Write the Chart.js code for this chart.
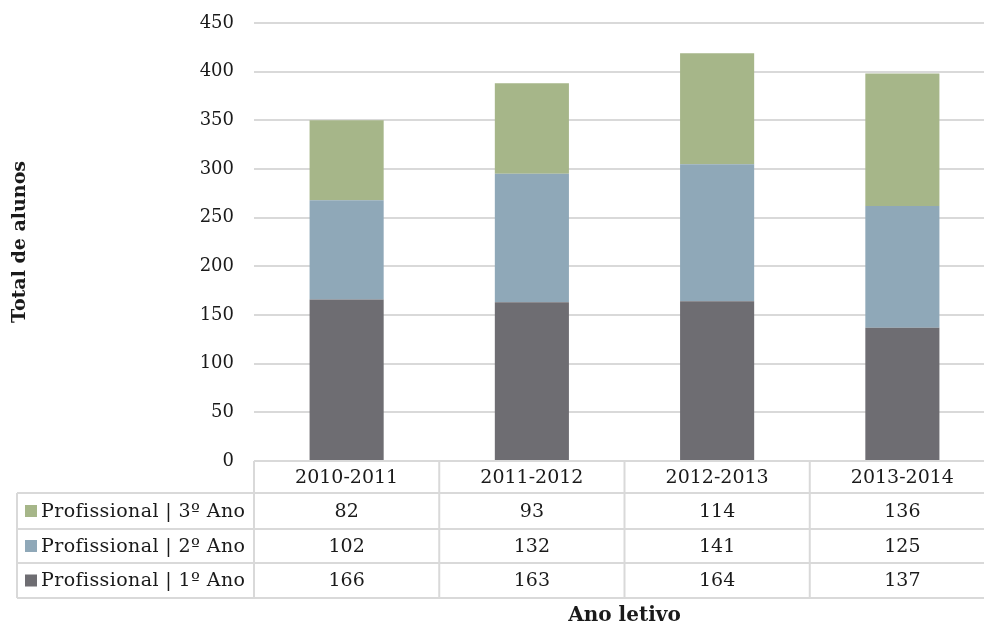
<!DOCTYPE html>
<html>
<head>
<meta charset="utf-8">
<script src="https://cdn.jsdelivr.net/npm/chart.js@4/dist/chart.umd.min.js"></script>
<style>
  html, body { margin: 0; padding: 0; overflow: hidden; background: #fff; }
  canvas { display: block; }
</style>
</head>
<body>
<canvas id="chart" width="996" height="626"></canvas>
<script>
// Data
const anos     = ["2010-2011", "2011-2012", "2012-2013", "2013-2014"];
const ano1     = [166, 163, 164, 137];
const ano2     = [102, 132, 141, 125];
const ano3     = [82, 93, 114, 136];
const nomes    = ["Profissional | 1º Ano", "Profissional | 2º Ano", "Profissional | 3º Ano"];
const cores    = ["#6e6d72", "#8fa8b8", "#a6b689"];

const FONT  = "'DejaVu Serif', serif";
const TEXT  = "#1a1a1a";
const LINES = "#d9d9d9";

// Draws the data table under the plot (acts as the legend too)
const dataTable = {
  id: "dataTable",
  afterDraw(chart) {
    const { ctx, chartArea } = chart;
    const x = chart.scales.x;
    const n = anos.length;
    const colW = (chartArea.right - chartArea.left) / n;
    const tableLeft = 17;
    const top = chartArea.bottom;
    const rows = [top, top + 32, top + 68, top + 102, top + 137];

    ctx.save();
    ctx.strokeStyle = LINES;
    ctx.lineWidth = 2;

    // horizontal lines
    ctx.beginPath();
    ctx.moveTo(chartArea.left, rows[0]);
    ctx.lineTo(chartArea.right, rows[0]);
    for (let r = 1; r < rows.length; r++) {
      ctx.moveTo(tableLeft, rows[r]);
      ctx.lineTo(chartArea.right, rows[r]);
    }
    // vertical lines
    for (let c = 0; c <= n; c++) {
      const cx = chartArea.left + c * colW;
      ctx.moveTo(cx, rows[0]);
      ctx.lineTo(cx, rows[4]);
    }
    ctx.moveTo(tableLeft, rows[1]);
    ctx.lineTo(tableLeft, rows[4]);
    ctx.stroke();

    ctx.font = "19px " + FONT;
    ctx.fillStyle = TEXT;
    ctx.textAlign = "center";
    ctx.textBaseline = "middle";

    // header: categories
    anos.forEach((a, i) => {
      ctx.fillText(a, x.getPixelForValue(i), (rows[0] + rows[1]) / 2 + 1);
    });

    // rows: top row is the last dataset
    const ds = chart.data.datasets;
    for (let r = 0; r < ds.length; r++) {
      const d = ds[ds.length - 1 - r];
      const cy = (rows[r + 1] + rows[r + 2]) / 2 + 1;
      ctx.textAlign = "center";
      ctx.fillStyle = TEXT;
      ctx.letterSpacing = "0px";
      d.data.forEach((v, i) => ctx.fillText(String(v), x.getPixelForValue(i), cy));
      ctx.fillStyle = d.backgroundColor;
      ctx.fillRect(25, cy - 7, 12, 12);
      ctx.fillStyle = TEXT;
      ctx.textAlign = "left";
      ctx.letterSpacing = "0.4px";
      ctx.fillText(d.label, 41, cy);
    }
    ctx.restore();
  }
};

new Chart(document.getElementById("chart"), {
  type: "bar",
  data: {
    labels: anos,
    datasets: [
      { label: nomes[0], data: ano1, backgroundColor: cores[0] },
      { label: nomes[1], data: ano2, backgroundColor: cores[1] },
      { label: nomes[2], data: ano3, backgroundColor: cores[2] }
    ]
  },
  options: {
    responsive: false,
    animation: false,
    devicePixelRatio: 1,
    layout: { padding: { left: 0, right: 1, top: 23, bottom: 0 } },
    datasets: { bar: { barPercentage: 0.4, categoryPercentage: 1.0 } },
    plugins: {
      legend: { display: false },
      tooltip: { enabled: false }
    },
    scales: {
      x: {
        stacked: true,
        grid: { display: false },
        border: { display: false },
        ticks: { display: false },
        title: {
          display: true,
          text: "Ano letivo",
          color: TEXT,
          font: { family: FONT, size: 20, weight: "bold", lineHeight: 1.0 },
          padding: { top: 0, bottom: 0 }
        },
        afterFit(scale) { scale.height = 165; }
      },
      y: {
        stacked: true,
        min: 0,
        max: 450,
        ticks: {
          stepSize: 50,
          padding: 20,
          color: TEXT,
          font: { family: FONT, size: 18 }
        },
        grid: { color: LINES, lineWidth: 2, drawTicks: false },
        border: { display: false },
        title: {
          display: true,
          text: "Total de alunos",
          color: TEXT,
          font: { family: FONT, size: 19, weight: "bold", lineHeight: 1.2 },
          padding: { top: 9, bottom: 0 }
        },
        afterFit(scale) {
          scale.width = 254;
          scale.paddingTop = 0;
          scale.paddingBottom = 0;
        }
      }
    }
  },
  plugins: [dataTable]
});
</script>
</body>
</html>
